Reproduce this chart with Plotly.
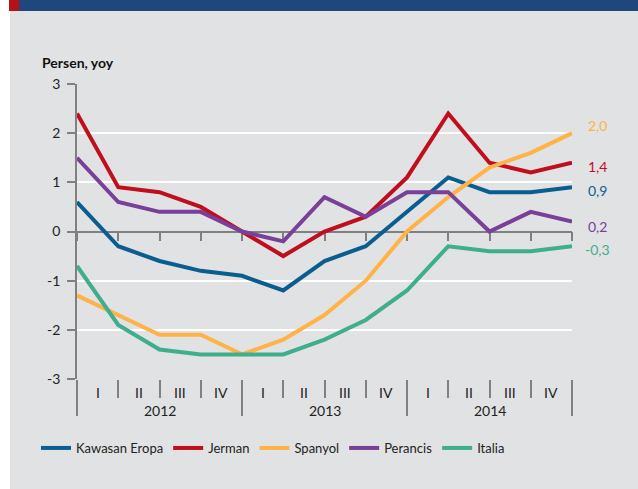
import plotly.graph_objects as go

# ---------------- data ----------------
quarters = ["I", "II", "III", "IV"]
years = ["2012", "2013", "2014"]
series_names = ["Kawasan Eropa", "Jerman", "Spanyol", "Perancis", "Italia"]
kawasan_eropa = [0.6, -0.3, -0.6, -0.8, -0.9, -1.2, -0.6, -0.3, 0.4, 1.1, 0.8, 0.8, 0.9]
jerman = [2.4, 0.9, 0.8, 0.5, 0.0, -0.5, 0.0, 0.3, 1.1, 2.4, 1.4, 1.2, 1.4]
spanyol = [-1.3, -1.7, -2.1, -2.1, -2.5, -2.2, -1.7, -1.0, 0.0, 0.7, 1.3, 1.6, 2.0]
perancis = [1.5, 0.6, 0.4, 0.4, 0.0, -0.2, 0.7, 0.3, 0.8, 0.8, 0.0, 0.4, 0.2]
italia = [-0.7, -1.9, -2.4, -2.5, -2.5, -2.5, -2.2, -1.8, -1.2, -0.3, -0.4, -0.4, -0.3]
end_labels = ["0,9", "1,4", "2,0", "0,2", "-0,3"]
y_ticks = [-3, -2, -1, 0, 1, 2, 3]
y_tick_text = ["-3", "-2", "-1", "0", "1", "2", "3"]
grid_vals = [-3, -2, -1, 1, 2]

# ---------------- style ----------------
colors = ["#0A5E8F", "#C00E1F", "#FFB347", "#7A3F98", "#3FAE8D"]
label_shift = [-3, -4, 8, -5, -3]
FONT = "Lato"
TXT = "#222222"
AX = "#808080"
GREY_BG = "#E1E2E4"
W, H = 638, 489
L, R, T, B = 77, 66, 84, 110
pw, ph = W - L - R, H - T - B


def xp(px):
    return (px - L) / pw


def yp(py):
    return (H - B - py) / ph


all_series = [kawasan_eropa, jerman, spanyol, perancis, italia]
n_pts = len(kawasan_eropa)
xs = list(range(n_pts))

fig = go.Figure()
for name, vals, col in zip(series_names, all_series, colors):
    fig.add_trace(go.Scatter(x=xs, y=vals, mode="lines", name=name,
                             line=dict(color=col, width=4), hoverinfo="skip"))

# overlay axis traces (invisible) so overlays render
fig.add_trace(go.Scatter(x=[0], y=[0], xaxis="x2", yaxis="y2", mode="markers",
                         marker=dict(opacity=0), showlegend=False, hoverinfo="skip"))
fig.add_trace(go.Scatter(x=[0], y=[0], xaxis="x3", yaxis="y", mode="markers",
                         marker=dict(opacity=0), showlegend=False, hoverinfo="skip"))

yr = [-3, 3]
xr = [0, n_pts - 1]
year_seps = list(range(0, n_pts, len(quarters)))

fig.update_layout(
    width=W, height=H,
    margin=dict(l=L, r=R, t=T, b=B),
    paper_bgcolor=GREY_BG, plot_bgcolor=GREY_BG,
    font=dict(family=FONT, size=14, color=TXT),
    showlegend=True,
    legend=dict(orientation="h", x=xp(36), y=yp(448), xanchor="left", yanchor="middle",
                font=dict(family=FONT, size=13, color=TXT), itemwidth=30,
                bgcolor="rgba(0,0,0,0)", traceorder="normal"),
    xaxis=dict(range=xr, anchor="free", position=0.5, showgrid=False, zeroline=False,
               showline=True, linecolor=AX, linewidth=1.5,
               tickvals=xs, ticks="outside", ticklen=9, tickcolor=AX, tickwidth=1.5,
               showticklabels=False, layer="below traces"),
    xaxis2=dict(range=xr, overlaying="x", anchor="y", side="bottom", showgrid=False,
                zeroline=False, showline=False, tickvals=xs, ticks="outside",
                ticklen=18, tickcolor=AX, tickwidth=1.5, showticklabels=False),
    xaxis3=dict(range=xr, overlaying="x", anchor="y", side="bottom", showgrid=False,
                zeroline=False, showline=False, tickvals=year_seps + [n_pts - 1],
                ticks="outside", ticklen=36, tickcolor=AX, tickwidth=1.5,
                showticklabels=False),
    yaxis=dict(range=yr, tickvals=y_ticks, ticktext=y_tick_text, ticks="outside", ticklen=8,
               tickcolor=AX, tickwidth=1.5, showline=True, linecolor=AX, linewidth=1.5,
               showgrid=False, zeroline=False, layer="below traces",
               tickfont=dict(family=FONT, size=14, color=TXT), ticklabelstandoff=4),
    yaxis2=dict(range=yr, overlaying="y", tickvals=grid_vals, showgrid=True,
                gridcolor="white", gridwidth=1.5, showticklabels=False, ticks="",
                zeroline=False, showline=False),
)

shapes = [
    dict(type="rect", xref="paper", yref="paper", x0=xp(-5), x1=xp(10), y0=yp(-5), y1=yp(H + 5),
         fillcolor="white", line=dict(width=0), layer="below"),
    dict(type="rect", xref="paper", yref="paper", x0=xp(9), x1=xp(W + 5), y0=yp(-5), y1=yp(11),
         fillcolor="#1F477B", line=dict(width=0), layer="below"),
    dict(type="rect", xref="paper", yref="paper", x0=xp(9), x1=xp(19), y0=yp(-5), y1=yp(11),
         fillcolor="#B5111B", line=dict(width=0), layer="below"),
]
fig.update_layout(shapes=shapes)

ann = []
# title
ann.append(dict(text="<b>Persen, yoy</b>", xref="paper", yref="paper", x=xp(40), y=yp(62),
                xanchor="left", yanchor="middle", showarrow=False,
                font=dict(family=FONT, size=14, color="#111111")))
# quarter labels
for i in range(n_pts - 1):
    ann.append(dict(text=quarters[i % len(quarters)], x=i + 0.5, y=0, xref="x", yref="paper",
                    yshift=-13, yanchor="middle", showarrow=False,
                    font=dict(family=FONT, size=14, color=TXT)))
# year labels
for k, yv in enumerate(years):
    ann.append(dict(text=yv, x=year_seps[k] + len(quarters) / 2, y=0, xref="x", yref="paper",
                    yshift=-31, yanchor="middle", showarrow=False,
                    font=dict(family=FONT, size=14, color=TXT)))
# end labels
for vals, lab, col, sh in zip(all_series, end_labels, colors, label_shift):
    ann.append(dict(text=lab, x=xp(597), y=vals[-1], xref="paper", yref="y",
                    yshift=sh, xanchor="center", yanchor="middle", showarrow=False,
                    font=dict(family=FONT, size=14, color=col)))
fig.update_layout(annotations=ann)

fig.write_html("out.html", config={"displayModeBar": False},
               post_script="document.body.style.margin='0';document.body.style.overflow='hidden';")
